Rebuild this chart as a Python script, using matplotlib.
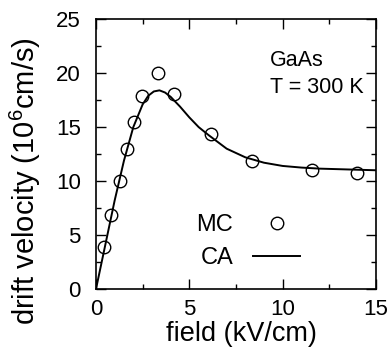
import matplotlib.pyplot as plt
from matplotlib.ticker import MultipleLocator

plt.rcParams["font.family"] = ["Liberation Sans", "DejaVu Sans"]
plt.rcParams["mathtext.fontset"] = "custom"
plt.rcParams["mathtext.rm"] = "Liberation Sans"

# Monte Carlo points
mc_field = [0.43, 0.8, 1.29, 1.66, 2.04, 2.46, 3.32, 4.18, 6.16, 8.36, 11.6, 14.0]
mc_velocity = [3.9, 6.9, 10.0, 13.0, 15.5, 17.9, 20.0, 18.1, 14.35, 11.9, 11.0, 10.75]

# cellular automaton curve
ca_field = [0, 0.5, 1.0, 1.5, 2.0, 2.5, 2.8, 3.1, 3.4, 3.7, 4.0, 4.5, 5.0, 5.5,
            6.0, 7.0, 8.0, 9.0, 10.0, 11.0, 12.0, 13.0, 14.0, 15.0]
ca_velocity = [0, 4.1, 8.2, 11.9, 15.0, 17.1, 17.9, 18.3, 18.4, 18.2, 17.8, 16.9,
               15.9, 15.0, 14.3, 13.0, 12.2, 11.7, 11.4, 11.25, 11.15, 11.1, 11.05, 11.0]

fig = plt.figure(figsize=(3.91, 3.47), dpi=100)
ax = fig.add_axes([0.2455, 0.167, 0.716, 0.778])

ax.plot(ca_field, ca_velocity, color="black", lw=1.4, label="CA")
ax.plot(mc_field, mc_velocity, "o", mfc="none", mec="black", ms=9, mew=1.0,
        label="MC", zorder=3)

ax.set_xlim(0, 15)
ax.set_ylim(0, 25)
ax.xaxis.set_major_locator(MultipleLocator(5))
ax.xaxis.set_minor_locator(MultipleLocator(2.5))
ax.yaxis.set_major_locator(MultipleLocator(5))
ax.yaxis.set_minor_locator(MultipleLocator(2.5))
ax.tick_params(which="both", direction="in", top=True, right=True,
               labelsize=16, width=1.0)
ax.tick_params(which="major", length=7)
ax.tick_params(which="minor", length=3.5)
ax.tick_params(axis="x", which="major", pad=7)
ax.tick_params(axis="y", which="major", pad=11)
for s in ax.spines.values():
    s.set_linewidth(1.2)

ax.set_xlabel("field (kV/cm)", fontsize=19.5)
ax.set_ylabel("drift velocity (10$^{6}$cm/s)", fontsize=21)
ax.xaxis.set_label_coords(0.518, -0.118)
ax.yaxis.set_label_coords(-0.19, 0.40)

ax.text(0.62, 0.826, "GaAs", transform=ax.transAxes, fontsize=15.5)
ax.text(0.62, 0.726, "T = 300 K", transform=ax.transAxes, fontsize=15.5)

h, l = ax.get_legend_handles_labels()
ax.legend(h[::-1], l[::-1], loc="lower left", bbox_to_anchor=(0.325, 0.04),
          frameon=False, markerfirst=False, fontsize=17, handlelength=2.0,
          labelspacing=0.45, handletextpad=0.85, borderaxespad=0)

fig.savefig("out.png", dpi=100)
